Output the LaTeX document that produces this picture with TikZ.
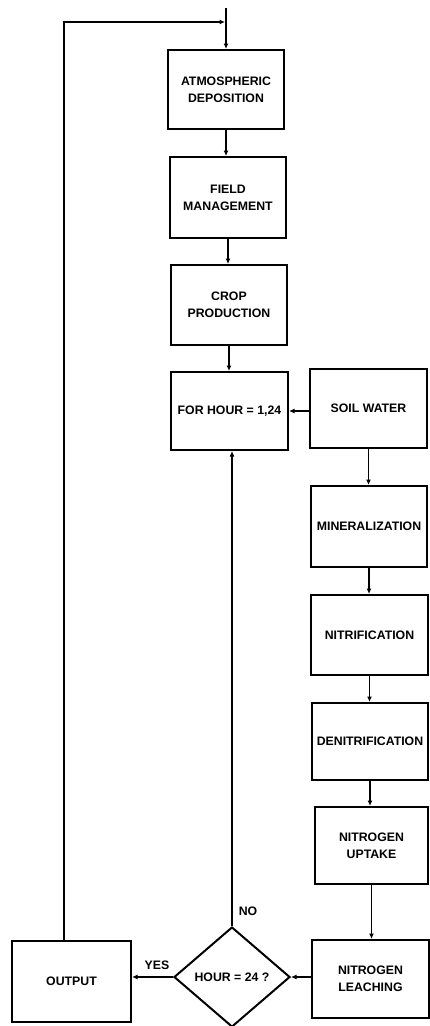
\documentclass[tikz,border=0pt]{standalone}
\usepackage{fontspec}
\setmainfont{Liberation Sans}
\usetikzlibrary{arrows.meta,shapes.geometric}
\tikzset{
  box/.style={draw, line width=2pt, inner sep=0pt, minimum width=116pt, align=center,
              font=\fontsize{12.3}{17}\selectfont\bfseries},
  dia/.style={draw, diamond, line width=2pt, inner sep=0pt, minimum width=116pt, minimum height=100pt,
              font=\fontsize{12.3}{17}\selectfont\bfseries},
  arr/.style={line width=1.9pt, -{Latex[length=5.5pt,width=5pt]}},
  lbl/.style={font=\fontsize{12.3}{14}\selectfont\bfseries, inner sep=0pt}
}
\begin{document}
\begin{tikzpicture}[x=1pt,y=-1pt]
\useasboundingbox (0,0) rectangle (430,1026);
\node[box, minimum height=79pt] (atmo) at (226,89.5) {ATMOSPHERIC\\DEPOSITION};
\node[box, minimum height=81pt] (field) at (228,197.5) {FIELD\\MANAGEMENT};
\node[box, minimum height=80pt] (crop) at (229,305) {CROP\\PRODUCTION};
\node[box, minimum width=117pt, minimum height=78pt] (forh) at (229.5,411) {FOR HOUR = 1,24};
\node[box, minimum width=117pt, minimum height=79pt] (soil) at (368.5,408.5) {SOIL WATER};
\node[box, minimum height=81pt] (miner) at (369,526.5) {MINERALIZATION};
\node[box, minimum width=117pt, minimum height=80pt] (nitri) at (369.5,635) {NITRIFICATION};
\node[box, minimum height=77pt] (denit) at (370,741.5) {DENITRIFICATION};
\node[box, minimum width=113pt, minimum height=77pt] (uptake) at (371.5,845.5) {NITROGEN\\UPTAKE};
\node[box, minimum width=117pt, minimum height=78pt] (leach) at (370.5,979) {NITROGEN\\LEACHING};
\node[dia] (hour) at (232,977) {HOUR = 24 ?};
\node[box, minimum width=119pt, minimum height=81pt] (out) at (71.5,981.5) {OUTPUT};
\coordinate (top) at (226,8);
\coordinate (lp) at (64,22);
\coordinate (jn) at (225,22);
% main chain
\draw[arr] (top) -- (atmo.north);
\draw[arr] (atmo.south) -- (atmo.south |- field.north);
\draw[arr] (field.south) -- (field.south |- crop.north);
\draw[arr] (crop.south) -- (crop.south |- forh.north);
\draw[arr] (soil.west |- forh.east) -- (forh.east);
\draw[arr] (soil.south) -- (soil.south |- miner.north);
\draw[arr] (miner.south) -- (miner.south |- nitri.north);
\draw[arr] (nitri.south) -- (nitri.south |- denit.north);
\draw[arr] (denit.south) -- (denit.south |- uptake.north);
\draw[arr] (uptake.south) -- (uptake.south |- leach.north);
\draw[arr] (leach.west |- hour.east) -- (hour.east);
\draw[arr] (hour.west) -- (hour.west -| out.east);
\draw[arr] (hour.north) -- (hour.north |- forh.south);
\draw[arr] (lp |- out.north) -- (lp) -- (jn);
\node[lbl] (yes) at (157,965) {YES};
\node[lbl] (no) at (248,911) {NO};
\end{tikzpicture}
\end{document}
